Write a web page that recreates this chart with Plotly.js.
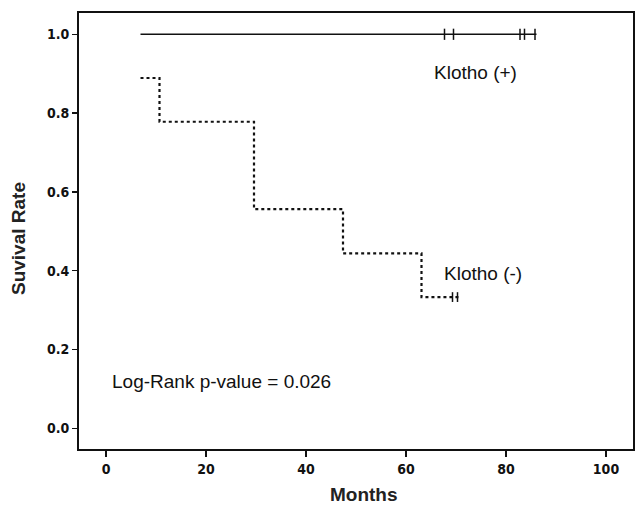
<!DOCTYPE html>
<html>
<head>
<meta charset="utf-8">
<script src="https://cdn.plot.ly/plotly-3.0.1.min.js"></script>
<style>html,body{margin:0;padding:0;background:#fff;}#chart{width:635px;height:508px;}</style>
</head>
<body>
<div id="chart"></div>
<script>
// Klotho (+): no events
const posMonths = [6.9, 86.1];
const posSurv = [1.0, 1.0];
const posCensorMonths = [67.7, 69.5, 82.8, 83.7, 85.8];
const posCensorSurv = [1.0, 1.0, 1.0, 1.0, 1.0];

// Klotho (-): step function
const negMonths = [6.9, 10.7, 29.6, 47.4, 63.1, 70.8];
const negSurv = [0.889, 0.778, 0.556, 0.444, 0.333, 0.333];
const negCensorMonths = [69.3, 70.3];
const negCensorSurv = [0.333, 0.333];

const xTicks = [0, 20, 40, 60, 80, 100];
const yTicks = [0.0, 0.2, 0.4, 0.6, 0.8, 1.0];

const labelPos = "Klotho (+)";
const labelNeg = "Klotho (-)";
const pText = "Log-Rank p-value = 0.026";
const xTitle = "Months";
const yTitle = "Suvival Rate";

const tickFont = {family: "'DejaVu Sans Condensed', 'Liberation Sans Narrow', Arial, sans-serif", size: 14, color: "#111", weight: "bold"};
const textFont = {family: "'Liberation Sans', Arial, sans-serif", size: 19, color: "#111"};
const titleFont = {family: "'Liberation Sans', Arial, sans-serif", size: 19, color: "#222"};

const traces = [
  {x: posMonths, y: posSurv, mode: "lines", line: {color: "#111", width: 1.5, shape: "hv"}, hoverinfo: "skip"},
  {x: posCensorMonths, y: posCensorSurv, mode: "markers", marker: {symbol: "line-ns-open", size: 8, color: "#111", line: {width: 1.5, color: "#111"}}, hoverinfo: "skip"},
  {x: negMonths, y: negSurv, mode: "lines", line: {color: "#111", width: 2.2, shape: "hv", dash: "dot"}, hoverinfo: "skip"},
  {x: negCensorMonths, y: negCensorSurv, mode: "markers", marker: {symbol: "line-ns-open", size: 7, color: "#111", line: {width: 1.5, color: "#111"}}, hoverinfo: "skip"}
];

const layout = {
  width: 635, height: 508,
  margin: {l: 79, r: 2, t: 13, b: 59},
  paper_bgcolor: "#fff", plot_bgcolor: "#fff",
  showlegend: false,
  xaxis: {
    range: [-5.4, 105.4], tickvals: xTicks, ticktext: xTicks.map(String),
    showgrid: false, zeroline: false, showline: true, linecolor: "#111", linewidth: 2, mirror: true,
    ticks: "outside", ticklen: 6, tickwidth: 1.5, tickcolor: "#111",
    tickfont: tickFont
  },
  yaxis: {
    range: [-0.0526, 1.054], tickvals: yTicks, ticktext: yTicks.map(v => v.toFixed(1)),
    showgrid: false, zeroline: false, showline: true, linecolor: "#111", linewidth: 2, mirror: true,
    ticks: "outside", ticklen: 5, tickwidth: 1.5, tickcolor: "#111",
    tickfont: tickFont
  },
  annotations: [
    {x: 73.9, y: 0.904, xref: "x", yref: "y", text: labelPos, showarrow: false, xanchor: "center", yanchor: "middle", font: textFont},
    {x: 75.4, y: 0.394, xref: "x", yref: "y", text: labelNeg, showarrow: false, xanchor: "center", yanchor: "middle", font: textFont},
    {x: 0.8, y: 0.118, xref: "x", yref: "y", text: pText, showarrow: false, xanchor: "left", yanchor: "middle", font: textFont},
    {x: (364 - 79) / 554, y: (449 - 494) / 436, xref: "paper", yref: "paper", text: "<b>" + xTitle + "</b>", showarrow: false,
     xanchor: "center", yanchor: "middle", font: titleFont},
    {x: (18.5 - 79) / 554, y: (449 - 238.5) / 436, xref: "paper", yref: "paper", text: "<b>" + yTitle + "</b>", showarrow: false,
     textangle: -90, xanchor: "center", yanchor: "middle", font: titleFont}
  ]
};

Plotly.newPlot("chart", traces, layout, {displayModeBar: false, staticPlot: true});
</script>
</body>
</html>
